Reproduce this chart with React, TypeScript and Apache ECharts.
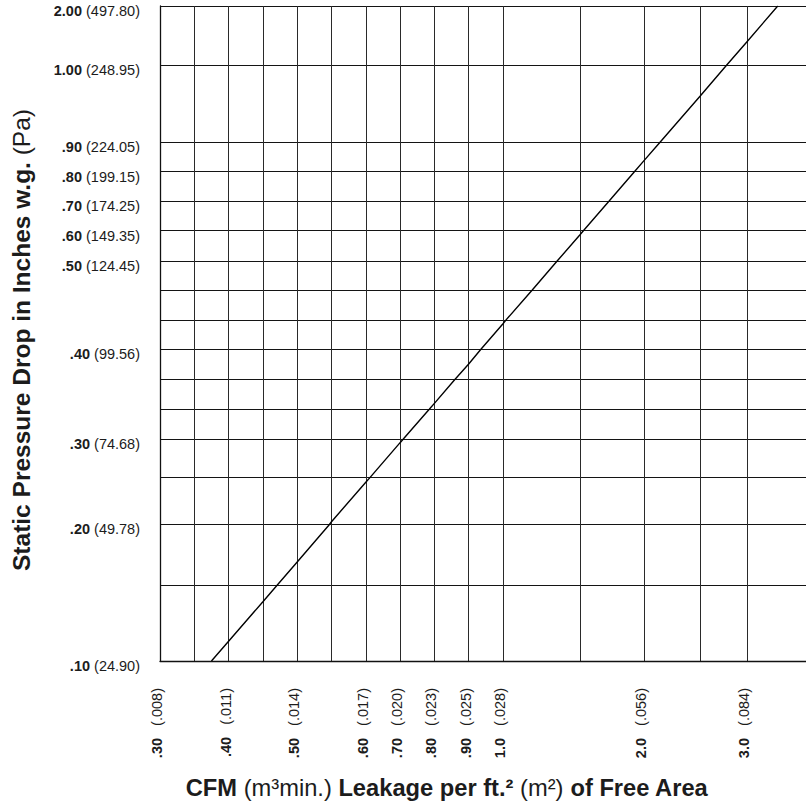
import React, { useEffect, useRef } from "react";
import * as echarts from "echarts";

// ---- X axis scale (CFM per ft²) : grid-line values and their offsets along the axis
const X_TICK_CFM = [0.3, 0.35, 0.4, 0.45, 0.5, 0.55, 0.6, 0.7, 0.8, 0.9, 1.0, 1.5, 2.0, 2.5, 3.0];
const X_TICK_OFFSET = [0, 34.3, 68.6, 102.9, 137.2, 171.5, 205.8, 240.1, 274.4, 308.7, 343, 420, 484, 540, 587];
const X_AXIS_END = 646;

// ---- X axis labels
const X_LABEL_CFM = [0.3, 0.4, 0.5, 0.6, 0.7, 0.8, 0.9, 1.0, 2.0, 3.0];
const X_LABEL_MAIN = [".30", ".40", ".50", ".60", ".70", ".80", ".90", "1.0", "2.0", "3.0"];
const X_LABEL_METRIC = ["(.008)", "(.011)", "(.014)", "(.017)", "(.020)", "(.023)", "(.025)", "(.028)", "(.056)", "(.084)"];

// ---- Y axis scale (in. w.g.) : grid-line values and their offsets along the axis
const Y_TICK_PRESSURE = [0.1, 0.15, 0.2, 0.25, 0.3, 0.3333, 0.3667, 0.4, 0.4333, 0.4667, 0.5, 0.6, 0.7, 0.8, 0.9, 1.0, 2.0];
const Y_TICK_OFFSET = [0, 76.3, 137, 184, 223, 252.6, 282.3, 312.6, 342.3, 372.3, 401.6, 432, 461.3, 491, 520.6, 597.6, 657.3];
const Y_AXIS_END = 657.3;

// ---- Y axis labels
const Y_LABEL_PRESSURE = [0.1, 0.2, 0.3, 0.4, 0.5, 0.6, 0.7, 0.8, 0.9, 1.0, 2.0];
const Y_LABEL_MAIN = [".10", ".20", ".30", ".40", ".50", ".60", ".70", ".80", ".90", "1.00", "2.00"];
const Y_LABEL_METRIC = ["(24.90)", "(49.78)", "(74.68)", "(99.56)", "(124.45)", "(149.35)", "(174.25)", "(199.15)", "(224.05)", "(248.95)", "(497.80)"];

// ---- Leakage line, read where it crosses the grid lines
const LINE_CFM = [
  0.375, 0.4, 0.45, 0.471, 0.5, 0.547, 0.55, 0.6, 0.612, 0.7, 0.71, 0.785, 0.8, 0.859, 0.9,
  0.935, 1.0, 1.02, 1.19, 1.353, 1.5, 1.528, 1.726, 1.925, 2.0, 2.143, 2.5, 2.78, 3.0, 3.327,
];
const LINE_PRESSURE = [
  0.1, 0.113, 0.139, 0.15, 0.169, 0.2, 0.203, 0.245, 0.25, 0.295, 0.3, 0.3333, 0.34, 0.3667, 0.384,
  0.4, 0.429, 0.4333, 0.4667, 0.5, 0.586, 0.6, 0.7, 0.8, 0.8375, 0.9, 0.96, 1.0, 1.4, 2.0,
];

const FONT = "'Liberation Sans', Arial, Helvetica, sans-serif";
const INK = "#1c1c1c";

function piecewise(v: number, vals: number[], pos: number[]): number {
  const n = vals.length;
  let i = 0;
  if (v >= vals[n - 1]) i = n - 2;
  else while (i < n - 2 && v > vals[i + 1]) i++;
  const t = (v - vals[i]) / (vals[i + 1] - vals[i]);
  return pos[i] + t * (pos[i + 1] - pos[i]);
}
const toX = (c: number) => piecewise(c, X_TICK_CFM, X_TICK_OFFSET);
const toY = (p: number) => piecewise(p, Y_TICK_PRESSURE, Y_TICK_OFFSET);

function findIndex(value: number, list: number[], map: (v: number) => number) {
  let best = -1;
  let bestD = Infinity;
  list.forEach((v, i) => {
    const d = Math.abs(map(v) - value);
    if (d < bestD) {
      bestD = d;
      best = i;
    }
  });
  return bestD < 0.5 ? best : -1;
}

export default function App() {
  const ref = useRef<HTMLDivElement>(null);

  useEffect(() => {
    if (!ref.current) return;
    const chart = echarts.init(ref.current, null, { renderer: "svg" });
    const richLabel = {
      b: { fontFamily: FONT, fontSize: 14.5, fontWeight: "bold", color: INK },
      n: { fontFamily: FONT, fontSize: 14.5, color: INK },
    };
    chart.setOption({
      animation: false,
      backgroundColor: "#ffffff",
      grid: { left: 160, top: 6, width: 646, height: 657.3, containLabel: false },
      xAxis: {
        type: "value",
        min: 0,
        max: X_AXIS_END,
        name: "{b|CFM} {n|(m³min.)} {b|Leakage per ft.²} {n|(m²)} {b|of Free Area}",
        nameLocation: "middle",
        nameGap: 115,
        nameTextStyle: {
          fontFamily: FONT,
          fontSize: 23.7,
          color: INK,
          padding: [0, 72, 0, 0],
          rich: {
            b: { fontFamily: FONT, fontSize: 23.7, fontWeight: "bold", color: INK },
            n: { fontFamily: FONT, fontSize: 23.7, color: INK },
          },
        },
        axisLine: { show: true, lineStyle: { color: "#111", width: 1.3 } },
        axisTick: { show: false, customValues: X_TICK_CFM.map(toX) },
        splitLine: { show: true, lineStyle: { color: "#2a2a2a", width: 1 } },
        axisLabel: {
          customValues: X_LABEL_CFM.map(toX),
          rotate: 90,
          margin: 27,
          fontFamily: FONT,
          fontSize: 14.5,
          color: INK,
          padding: [0, 0, 6, 0],
          rich: richLabel,
          formatter: (v: number) => {
            const i = findIndex(v, X_LABEL_CFM, toX);
            return i < 0 ? "" : `{b|${X_LABEL_MAIN[i]}}   {n|${X_LABEL_METRIC[i]}}`;
          },
        },
      },
      yAxis: {
        type: "value",
        min: 0,
        max: Y_AXIS_END,
        name: "{b|Static Pressure Drop in Inches w.g.} {n|(Pa)}",
        nameLocation: "middle",
        nameGap: 126,
        nameTextStyle: {
          fontFamily: FONT,
          fontSize: 24.5,
          color: INK,
          padding: [0, 13, 0, 0],
          rich: {
            b: { fontFamily: FONT, fontSize: 24.5, fontWeight: "bold", color: INK },
            n: { fontFamily: FONT, fontSize: 24.5, color: INK },
          },
        },
        axisLine: { show: true, lineStyle: { color: "#111", width: 1.3 } },
        axisTick: { show: false, customValues: Y_TICK_PRESSURE.map(toY) },
        splitLine: { show: true, lineStyle: { color: "#141414", width: 1.2 } },
        axisLabel: {
          customValues: Y_LABEL_PRESSURE.map(toY),
          margin: 20,
          fontFamily: FONT,
          fontSize: 14.5,
          color: INK,
          padding: [10, 0, 0, 0],
          rich: richLabel,
          formatter: (v: number) => {
            const i = findIndex(v, Y_LABEL_PRESSURE, toY);
            return i < 0 ? "" : `{b|${Y_LABEL_MAIN[i]}} {n|${Y_LABEL_METRIC[i]}}`;
          },
        },
      },
      series: [
        {
          type: "line",
          data: LINE_CFM.map((c, i) => [toX(c), toY(LINE_PRESSURE[i])]),
          symbol: "none",
          clip: true,
          lineStyle: { color: "#000", width: 1.4 },
          silent: true,
        },
      ],
    });
    return () => chart.dispose();
  }, []);

  return (
    <div
      ref={ref}
      style={{ position: "absolute", left: 0, top: 0, width: 806, height: 805, background: "#fff" }}
    />
  );
}
